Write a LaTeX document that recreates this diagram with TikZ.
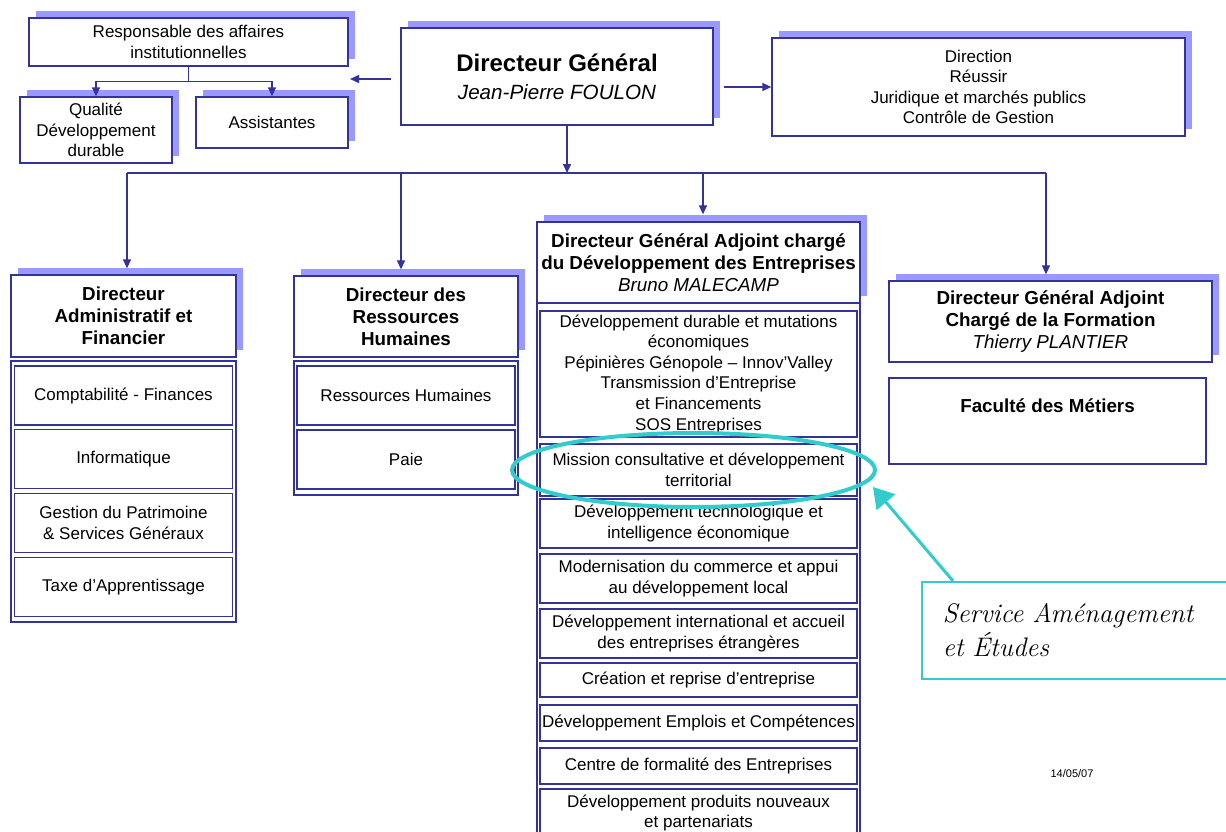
\documentclass[tikz,border=0pt]{standalone}
\usepackage{fontspec}
\newfontfamily\orgfont{Liberation Sans}
\usepackage{xcolor}
\usetikzlibrary{arrows.meta,shadows}
\definecolor{orgblue}{HTML}{333399}
\definecolor{orgshade}{HTML}{9999FF}
\definecolor{hlcyan}{HTML}{33CCCC}
\tikzset{
  unitbox/.style={draw=orgblue, line width=1.3pt, fill=white, inner sep=0pt, align=center,
    font=\orgfont\fontsize{17}{20.6}\selectfont},
  groupframe/.style={draw=orgblue, line width=1.3pt, fill=white, inner sep=0pt},
  boxshadow/.style={general shadow={shadow xshift=7pt, shadow yshift=7pt, fill=orgshade}},
  headbox/.style={unitbox, boxshadow, font=\orgfont\bfseries\fontsize{18.8}{22}\selectfont},
  subunit/.style={unitbox, minimum width=218, minimum height=59},
  midunit/.style={unitbox, minimum width=317},
  orgline/.style={draw=orgblue, line width=1.2pt},
  orgarrow/.style={orgline, -{Triangle[width=8pt,length=9pt]}},
  hilite/.style={draw=hlcyan, line width=4pt},
  callbox/.style={draw=hlcyan, line width=1.5pt, fill=white, minimum width=320, minimum height=97,
    text width=278pt, inner xsep=21pt, inner ysep=0pt, align=left,
    font=\itshape\addfontfeature{FakeBold=1.2}\fontsize{26.8}{34}\selectfont},
}

\begin{document}
\begin{tikzpicture}[x=1pt,y=-1pt]
\path[use as bounding box, fill=white] (0,0) rectangle (1226,831);
\clip (0,0) rectangle (1226,831);

% top level
\node[unitbox, boxshadow, minimum width=312, minimum height=97, font=\orgfont\fontsize{20.6}{28}\selectfont] (dg) at (557,76.5)
  {{\bfseries\fontsize{24}{28}\selectfont Directeur Général}\\{\itshape Jean-Pierre FOULON}};
\node[unitbox, boxshadow, minimum width=319, minimum height=48] (resp) at (188.5,42) {Responsable des affaires\\institutionnelles};
\node[unitbox, boxshadow, minimum width=152, minimum height=66] (qual) at (96,130) {Qualité\\Développement\\durable};
\node[unitbox, boxshadow, minimum width=152, minimum height=51] (asst) at (272,122.5) {Assistantes};
\node[unitbox, boxshadow, minimum width=413, minimum height=98] (dirgen) at (978.5,87)
  {Direction\\Réussir\\Juridique et marchés publics\\Contrôle de Gestion};

% administration et finances
\node[headbox, minimum width=225, minimum height=82] (daf) at (123.5,316) {Directeur\\Administratif et\\Financier};
\node[groupframe, minimum width=225, minimum height=261] (daffr) at (123.5,491.5) {};
\node[subunit] (compta) at (123.5,395.5) {Comptabilité - Finances};
\node[subunit] (info) at (123.5,459) {Informatique};
\node[subunit] (patri) at (123.5,523) {Gestion du Patrimoine\\\& Services Généraux};
\node[subunit] (taxe) at (123.5,587) {Taxe d’Apprentissage};

% ressources humaines
\node[headbox, minimum width=224, minimum height=81] (drh) at (406,316.5) {Directeur des\\Ressources\\Humaines};
\node[groupframe, minimum width=224, minimum height=134] (drhfr) at (406,428) {};
\node[subunit] (rh) at (406,395.5) {Ressources Humaines};
\node[subunit] (paie) at (406,459.5) {Paie};

% developpement des entreprises
\node[groupframe, minimum width=323, minimum height=537] (dgadefr) at (698.5,571.5) {};
\node[headbox, minimum width=323, minimum height=81] (dgade) at (698.5,262.5)
  {Directeur Général Adjoint chargé\\du Développement des Entreprises\\{\mdseries\itshape Bruno MALECAMP}};
\node[midunit, minimum height=126] (devdur) at (698.5,374)
  {Développement durable et mutations\\économiques\\Pépinières Génopole – Innov’Valley\\Transmission d’Entreprise\\et Financements\\SOS Entreprises};
\node[midunit, minimum height=52] (mission) at (698.5,470) {Mission consultative et développement\\territorial};
\node[midunit, minimum height=49] (techno) at (698.5,523.5) {Développement technologique et\\intelligence économique};
\node[midunit, minimum height=49] (commerce) at (698.5,578.5) {Modernisation du commerce et appui\\au développement local};
\node[midunit, minimum height=49] (inter) at (698.5,633.5) {Développement international et accueil\\des entreprises étrangères};
\node[midunit, minimum height=34] (creation) at (698.5,680) {Création et reprise d’entreprise};
\node[midunit, minimum height=36] (emplois) at (698.5,723) {Développement Emplois et Compétences};
\node[midunit, minimum height=36] (cfe) at (698.5,766) {Centre de formalité des Entreprises};
\node[midunit, minimum height=48] (produits) at (698.5,813) {Développement produits nouveaux\\et partenariats};

% formation
\node[headbox, minimum width=323, minimum height=81] (dgaf) at (1050.5,321.5)
  {Directeur Général Adjoint\\Chargé de la Formation\\{\mdseries\itshape Thierry PLANTIER}};
\node[unitbox, minimum width=317, minimum height=86, font=\orgfont\bfseries\fontsize{18.8}{22}\selectfont] (fac) at (1047.5,421)
  {Faculté des Métiers\\[8pt]\mbox{}};

\node[font=\orgfont\fontsize{11}{13}\selectfont] (date) at (1072,774) {14/05/07};

% connectors
\coordinate (respgrp) at (350,79);
\coordinate (dgout) at ([xshift=10pt]dg.south);
\coordinate (busL) at (127,173);
\coordinate (busR) at (1046,173);
\coordinate (busdrh) at (401,173);
\coordinate (busdgade) at (703,173);
\draw[orgarrow, line width=1.5pt] ([xshift=-9pt]dg.west |- respgrp) -- (respgrp);
\draw[orgarrow, line width=1.5pt] ([xshift=10pt]dg.east |- dirgen.west) -- (dirgen.west);
\draw[orgarrow, line width=1.5pt] (resp.south) -- ++(0,15) -| (qual.north);
\draw[orgarrow, line width=1.5pt] (resp.south) ++(0,15) -| (asst.north);
\draw[orgline] (busL) -- (busR);
\draw[orgarrow, line width=1.5pt] (dgout) -- (dgout |- busL);
\draw[orgarrow, shorten >=6pt] (busL) -- (busL |- daf.north);
\draw[orgarrow, shorten >=6pt] (busdrh) -- (busdrh |- drh.north);
\draw[orgarrow, shorten >=7pt] (busdgade) -- (busdgade |- dgade.north);
\draw[orgarrow, shorten >=6pt] (busR) -- (busR |- dgaf.north);

% highlight and callout
\draw[hilite] (693.5,470) ellipse [x radius=181.5, y radius=37];
\node[callbox, anchor=north west] (callout) at (921,581) {Service Aménagement\\et Études};
\coordinate (hltip) at (873,487);
\draw[hilite, line width=3pt, -{Triangle[width=24pt,length=20pt]}] ([xshift=32pt]callout.north west) -- (hltip);
\end{tikzpicture}
\end{document}
